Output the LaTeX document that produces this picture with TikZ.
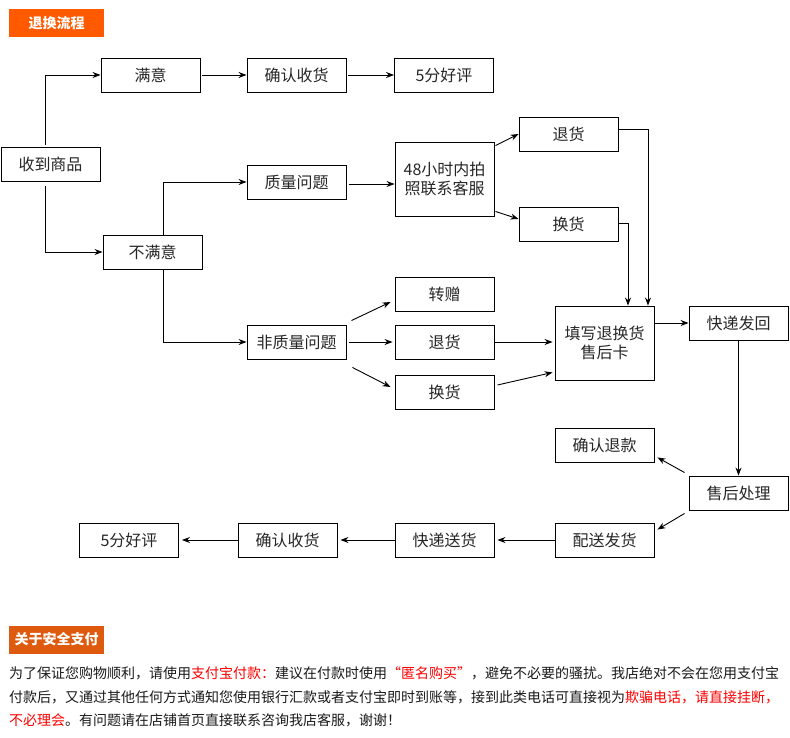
\documentclass[tikz,border=0pt]{standalone}
\usepackage{fontspec}
\setmainfont{Noto Sans CJK SC}
\usetikzlibrary{arrows.meta}
\definecolor{titleorange}{HTML}{FF5A00}
\definecolor{payorange}{HTML}{DD5A0E}
\definecolor{warnred}{HTML}{FF0000}

\begin{document}
\begin{tikzpicture}[x=1pt,y=-1pt,
		box/.style={draw,line width=0.9pt,minimum width=99pt,minimum height=34pt,inner sep=0pt,
			font=\fontsize{16}{19}\selectfont,text=black!85},
		bigbox/.style={box,minimum height=74pt,align=center},
		title/.style={fill=#1,text=white,minimum width=95pt,minimum height=28pt,inner sep=0pt,
			font=\fontsize{14}{16}\selectfont\bfseries},
		line/.style={line width=0.9pt,-{Stealth[length=8pt,width=6pt]}},
		note/.style={anchor=west,inner sep=0pt,font=\fontsize{14}{16}\selectfont,text=black!90}]
		\useasboundingbox (0,0) rectangle (790,737);
		\node[title=titleorange] (flow) at (56.5,23) {退换流程};
		\node[box] (sat) at (150.5,75) {满意};
		\node[box] (ok1) at (296.5,75) {确认收货};
		\node[box] (star1) at (444,75) {5分好评};
		\node[box] (recv) at (50.5,164) {收到商品};
		\node[box] (qual) at (296.5,182) {质量问题};
		\node[box] (unsat) at (152.5,252) {不满意};
		\node[bigbox] (photo) at (444.5,179) {48小时内拍\\照联系客服};
		\node[box] (ret1) at (568.5,134) {退货};
		\node[box] (swap1) at (568.5,224) {换货};
		\node[box] (gift) at (444.5,294) {转赠};
		\node[box] (nonq) at (296.5,342) {非质量问题};
		\node[box] (ret2) at (444.5,342) {退货};
		\node[box] (swap2) at (444.5,392) {换货};
		\node[bigbox] (card) at (604.5,343) {填写退换货\\售后卡};
		\node[box] (back) at (738.5,323) {快递发回};
		\node[box] (refund) at (604.5,445) {确认退款};
		\node[box] (after) at (738.5,493) {售后处理};
		\node[box] (ship) at (604.5,540) {配送发货};
		\node[box] (deliver) at (444.5,540) {快递送货};
		\node[box] (ok2) at (287.5,540) {确认收货};
		\node[box] (star2) at (129,540) {5分好评};
		
		\draw[line] ([xshift=-5.5pt,yshift=2pt]recv.north) |- (sat.west);
		\draw[line] ([xshift=-5.5pt,yshift=-5pt]recv.south) |- (unsat.west);
		\draw[line] ([xshift=2pt]sat.east) -- (ok1.west);
		\draw[line] ([xshift=2pt]ok1.east) -- (star1.west);
		\draw[line] ([xshift=10.5pt]unsat.north) |- (qual.west);
		\draw[line] ([xshift=10.5pt]unsat.south) |- (nonq.west);
		\draw[line] ([xshift=3pt,yshift=-2pt]qual.east) -- ([yshift=-2pt]qual.east -| photo.west);
		\draw[line] ([xshift=1pt,yshift=-4pt]photo.north east) -- (ret1.west);
		\draw[line] ([xshift=1pt,yshift=5pt]photo.south east) -- ([yshift=5pt]swap1.west);
		\draw[line] ([yshift=5pt]ret1.east) -| ([xshift=43.5pt]card.north);
		\draw[line] ([yshift=1pt]swap1.east) -| ([xshift=23.5pt]card.north);
		\draw[line] ([xshift=5pt,yshift=4pt]nonq.north east) -- ([xshift=-4pt,yshift=-8pt]gift.west);
		\draw[line] ([xshift=3pt]nonq.east) -- ([xshift=-2pt]ret2.west);
		\draw[line] ([xshift=6pt,yshift=-8pt]nonq.south east) -- ([xshift=-4pt,yshift=5pt]swap2.west);
		\draw[line,shorten >=2pt] (ret2.east) -- (ret2.east -| card.west);
		\draw[line] ([xshift=3pt,yshift=7pt]swap2.east) -- ([xshift=-2pt,yshift=8pt]card.south west);
		\draw[line] (card.east |- back.west) -- (back.west);
		\draw[line] (back.south) -- (after.north);
		\draw[line] ([xshift=-4pt,yshift=3pt]after.north west) -- ([xshift=3pt,yshift=5pt]refund.south east);
		\draw[line] ([xshift=-4pt,yshift=-3pt]after.south west) -- ([xshift=3pt,yshift=-7pt]ship.north east);
		\draw[line,shorten >=3pt] (ship.west) -- (deliver.east);
		\draw[line,shorten >=3pt] (deliver.west) -- (ok2.east);
		\draw[line,shorten >=3pt] (ok2.west) -- (star2.east);
		
		\node[title=payorange] (pay) at (56.5,639.5) {关于安全支付};
		\node[note] (txt1) at (9,673) {为了保证您购物顺利，请使用\textcolor{warnred}{支付宝付款：}建议在付款时使用\textcolor{warnred}{“匿名购买”}，避免不必要的骚扰。我店绝对不会在您用支付宝};
		\node[note] (txt2) at (9,697) {付款后，又通过其他任何方式通知您使用银行汇款或者支付宝即时到账等，接到此类电话可直接视为\textcolor{warnred}{欺骗电话，请直接挂断，}};
		\node[note] (txt3) at (9,720) {\textcolor{warnred}{不必理会}。有问题请在店铺首页直接联系咨询我店客服，谢谢！};
	\end{tikzpicture}
\end{document}
